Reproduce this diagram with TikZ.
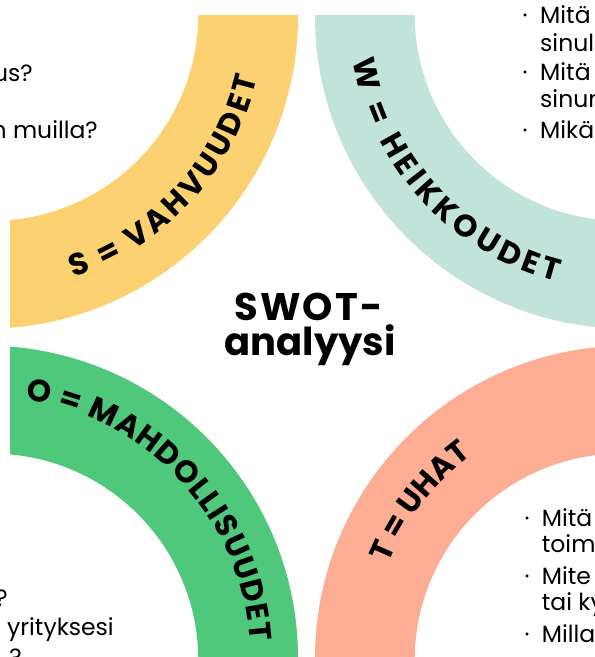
\documentclass[tikz,border=0pt]{standalone}
\usepackage{fontspec}
\setmainfont{Poppins}
\usetikzlibrary{decorations.text}
\definecolor{swotS}{HTML}{FCD172}
\definecolor{swotW}{HTML}{C1E3DA}
\definecolor{swotO}{HTML}{4FC87C}
\definecolor{swotT}{HTML}{FDAD93}
\newcommand\arcfont{\bfseries\fontsize{31pt}{31pt}\selectfont}
\newcommand\bodyfont{\fontsize{23.5pt}{26pt}\selectfont}
\newcommand\titlefont{\bfseries\fontsize{38.5pt}{35pt}\selectfont}
\begin{document}
\begin{tikzpicture}[x=1pt,y=1pt,
  arclabel/.style={decorate, decoration={text along path, text align={fit to path}, text color=black}},
  arclabelc/.style={decorate, decoration={text along path, text align=center, text color=black}},
  body/.style={font=\bodyfont, inner sep=0pt, text=black},
  titletext/.style={font=\titlefont, inner sep=0pt, text=black, anchor=base}]
\useasboundingbox (0,0) rectangle (595,-657);
% centres
\coordinate (Sc) at (-11.5,-15);
\coordinate (Wc) at (624.5,-15);
\coordinate (Oc) at (-11.5,-659.3);
\coordinate (Tc) at (624.5,-659.3);
% bands
\begin{scope}
  \clip (10,-15) rectangle (306.5,-337.2);
  \fill[swotS, even odd rule] (-14.7,-16) circle[radius=312.7pt] (-8.3,-14.2) circle[radius=206.6pt];
\end{scope}
\begin{scope}
  \clip (306.5,-15) rectangle (603,-337.2);
  \fill[swotW, even odd rule] (627.7,-16) circle[radius=312.7pt] (621.3,-14.2) circle[radius=206.6pt];
\end{scope}
\begin{scope}
  \clip (10,-337.2) rectangle (306.5,-659.4);
  \fill[swotO, even odd rule] (-14.7,-658.4) circle[radius=312.7pt] (-8.3,-660.2) circle[radius=206.6pt];
\end{scope}
\begin{scope}
  \clip (306.5,-337.2) rectangle (603,-659.4);
  \fill[swotT, even odd rule] (627.7,-658.4) circle[radius=312.7pt] (621.3,-660.2) circle[radius=206.6pt];
\end{scope}
% band labels
\path[arclabel, decoration={text={|\arcfont|S = VAHVUUDET}}]
  ([shift={(-72.1:276pt)}]Sc) arc[start angle=-72.1, end angle=-13.2, radius=276pt];
\path[arclabel, decoration={text={|\arcfont|W = HEIKKOUDET}}]
  ([shift={(189.5:275pt)}]Wc) arc[start angle=189.5, end angle=255.8, radius=275pt];
\path[arclabel, decoration={text={|\arcfont|O = MAHDOLLISUUDET}}]
  ([shift={(81.9:262pt)}]Oc) arc[start angle=81.9, end angle=3.9, radius=262pt];
\path[arclabelc, decoration={text={|\arcfont|T = UHAT}}]
  ([shift={(192.35:255pt)}]Tc) arc[start angle=192.35, end angle=92.35, radius=255pt];
% title
\node[titletext] (title1) at (308.5,-320) {\addfontfeature{LetterSpace=6}SWOT-};
\node[titletext] (title2) at (310,-355) {analyysi};
% top-left text
\node[body, anchor=base east] (tl1) at (33,-81) {us?};
\node[body, anchor=base east] (tl2) at (98,-138) {n muilla?};
% top-right text
\node[body, anchor=base] (trb1) at (525,-23) {·};
\node[body, anchor=base west] (tr1) at (540,-23) {Mitä};
\node[body, anchor=base west] (tr2) at (540,-51) {sinul};
\node[body, anchor=base] (trb2) at (525,-80) {·};
\node[body, anchor=base west] (tr3) at (540,-80) {Mitä};
\node[body, anchor=base west] (tr4) at (540,-107) {sinun};
\node[body, anchor=base] (trb3) at (525,-138) {·};
\node[body, anchor=base west] (tr5) at (540,-138) {Mikä};
% bottom-left text
\node[body, anchor=base east] (bl1) at (8,-606) {?};
\node[body, anchor=base west] (bl2) at (7,-635) {yrityksesi};
\node[body, anchor=base east] (bl3) at (22,-665) {?};
% bottom-right text
\node[body, anchor=base] (brb1) at (527,-526) {·};
\node[body, anchor=base west] (br1) at (541.7,-526) {Mitä};
\node[body, anchor=base west] (br2) at (541.7,-552) {toim};
\node[body, anchor=base] (brb2) at (527,-584) {·};
\node[body, anchor=base west] (br3) at (541.7,-584) {Mite};
\node[body, anchor=base west] (br4) at (541.7,-610) {tai ky};
\node[body, anchor=base] (brb3) at (527,-642) {·};
\node[body, anchor=base west] (br5) at (541.7,-642) {Milla};
\end{tikzpicture}
\end{document}
